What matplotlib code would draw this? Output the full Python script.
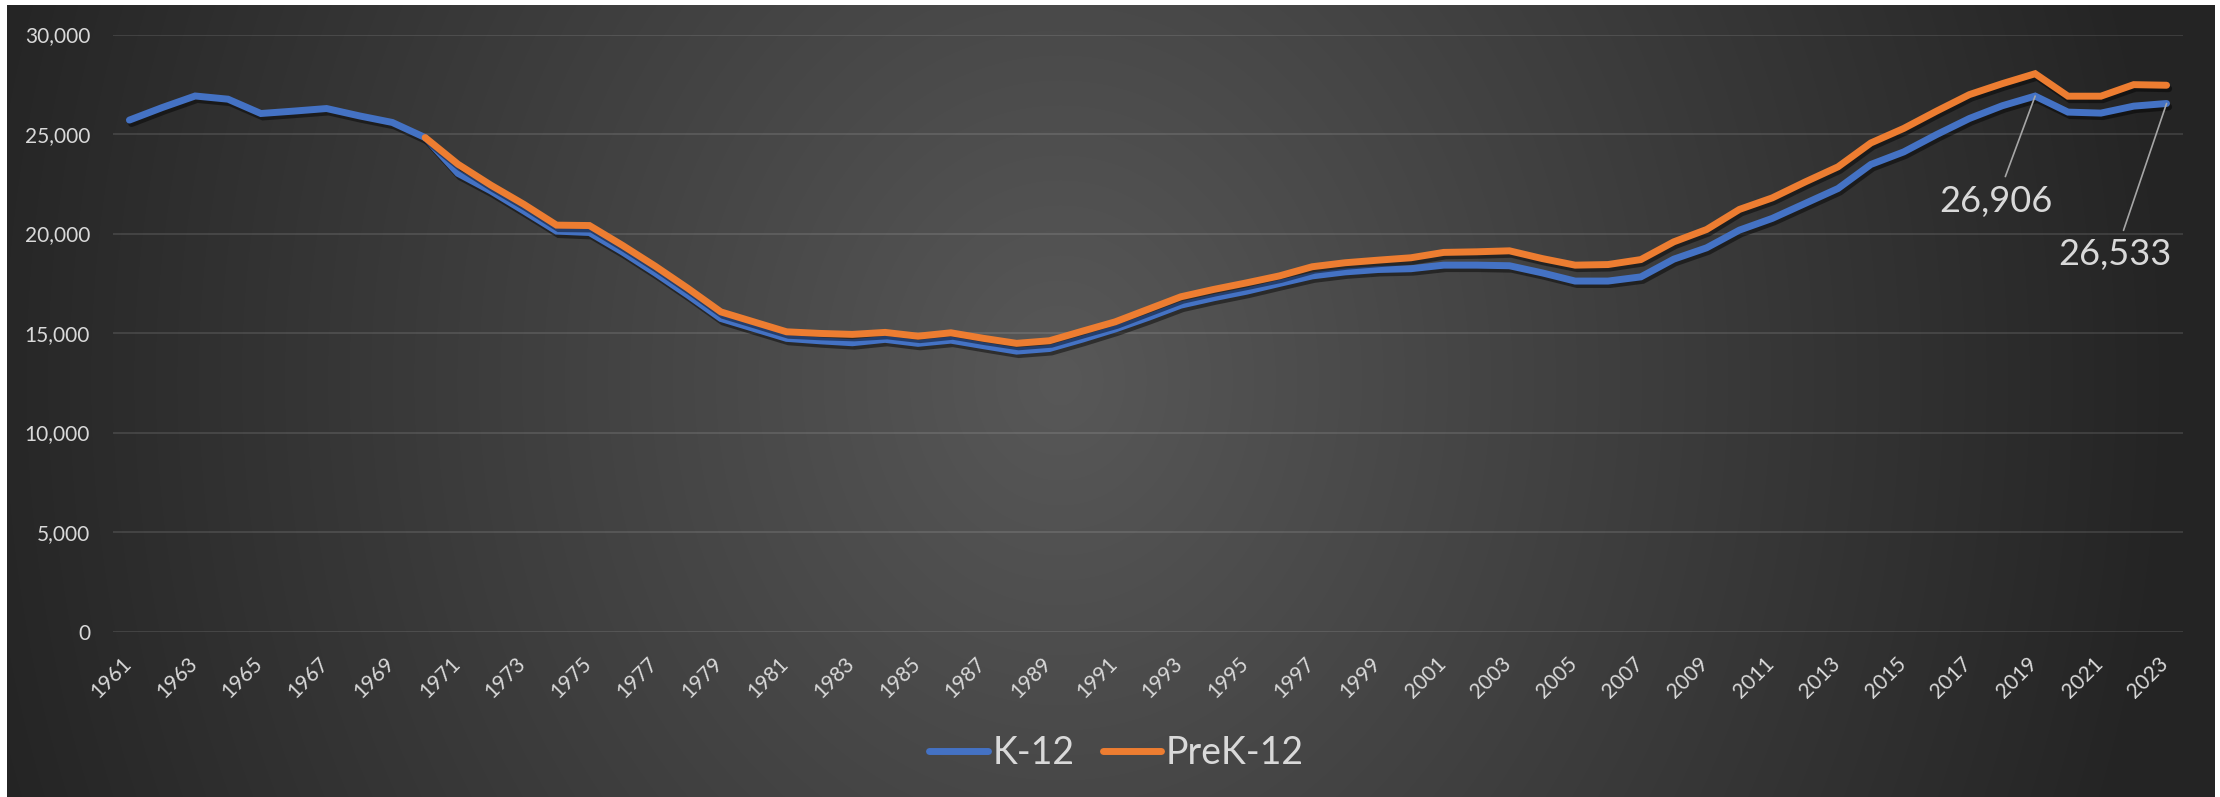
import numpy as np
import matplotlib
matplotlib.use("Agg")
import matplotlib.pyplot as plt
import matplotlib.patheffects as pe
import matplotlib.transforms as mtransforms
from matplotlib.lines import Line2D
from matplotlib.ticker import FuncFormatter

plt.rcParams['font.family'] = ['Lato', 'DejaVu Sans']

# ---------------- data ----------------
years = list(range(1961, 2024))
k12 = [25700, 26330, 26910, 26750, 26030, 26150, 26280, 25910, 25580, 24820,
       23020, 22140, 21140, 20120, 20050, 19080, 18020, 16900, 15730, 15230,
       14730, 14610, 14510, 14680, 14480, 14640, 14360, 14090, 14220, 14690,
       15200, 15780, 16400, 16770, 17100, 17490, 17870, 18070, 18190, 18230,
       18410, 18410, 18380, 18020, 17610, 17610, 17820, 18710, 19280, 20170,
       20760, 21510, 22260, 23470, 24100, 24970, 25780, 26420, 26906, 26100,
       26050, 26400, 26533]
prek12 = [None] * 9 + [
       24820,
       23480, 22430, 21470, 20420, 20400, 19410, 18360, 17240, 16060, 15560,
       15060, 14980, 14930, 15030, 14840, 15010, 14730, 14480, 14610, 15090,
       15560, 16190, 16820, 17190, 17520, 17870, 18330, 18530, 18660, 18780,
       19050, 19080, 19130, 18740, 18410, 18440, 18690, 19580, 20200, 21210,
       21790, 22590, 23350, 24550, 25280, 26150, 26980, 27530, 28030, 26900,
       26900, 27480, 27450]
series_names = ["K-12", "PreK-12"]
labelled_years = [2019, 2023]
yticks = [0, 5000, 10000, 15000, 20000, 25000, 30000]

BLUE = "#4472C4"
ORANGE = "#ED7D31"
TXT = "#D9D9D9"

W, H = 2220, 797
fig = plt.figure(figsize=(W / 100, H / 100), dpi=100, facecolor="white")

# ---------------- background gradient ----------------
bx0, by0, bx1, by1 = 7, 5, 2215, 797  # pixel box (top-left origin)
bg = fig.add_axes([bx0 / W, 1 - by1 / H, (bx1 - bx0) / W, (by1 - by0) / H])
gx = np.arange(bx0, bx1)
gy = np.arange(by0, by1)
GX, GY = np.meshgrid(gx, gy)
r = np.sqrt(((GX - 1060) / 1120.0) ** 2 + ((GY - 380) / 1300.0) ** 2)
r = np.clip(r, 0, 1)
v = (36 + 52 * (1 - r)) / 255.0
img = np.dstack([v, v, v])
bg.imshow(img, aspect="auto", interpolation="bilinear", origin="upper")
bg.set_axis_off()

# ---------------- main axes ----------------
left, right, top, bottom = 113, 2183, 34.5, 631.5
ax = fig.add_axes([left / W, 1 - bottom / H, (right - left) / W, (bottom - top) / H])
ax.patch.set_alpha(0)
x = np.arange(len(years))
k_arr = np.array(k12, dtype=float)
p_arr = np.array([np.nan if v_ is None else v_ for v_ in prek12], dtype=float)

shadow = [pe.SimpleLineShadow(offset=(1.5, -2.5), shadow_color="black", alpha=0.45),
          pe.Normal()]
ax.plot(x, k_arr, color=BLUE, lw=5, solid_capstyle="round",
        solid_joinstyle="miter", zorder=3, path_effects=shadow)
ax.plot(x, p_arr, color=ORANGE, lw=5, solid_capstyle="round",
        solid_joinstyle="miter", zorder=4, path_effects=shadow)

ax.set_xlim(-0.5, len(years) - 0.5)
ax.set_ylim(0, 30000)
ax.set_yticks(yticks)
ax.yaxis.set_major_formatter(FuncFormatter(lambda val, p: f"{val:,.0f}"))
ax.grid(axis="y", color="white", alpha=0.11, lw=1.5)
ax.set_axisbelow(True)
for s in ax.spines.values():
    s.set_visible(False)

ax.set_xticks(x[::2])
ax.set_xticklabels([str(y) for y in years[::2]], rotation=45, ha="right",
                   va="top", fontsize=15, color=TXT)
ax.tick_params(axis="x", length=0, pad=16)
ax.tick_params(axis="y", length=0, pad=16.5, labelsize=15, labelcolor=TXT)
off = mtransforms.ScaledTranslation(6 / 100, 0, fig.dpi_scale_trans)
for lab in ax.get_xticklabels():
    lab.set_transform(lab.get_transform() + off)

# ---------------- data labels ----------------
offsets = {2019: (-28, -75.6), 2023: (-37, -109)}
for yr in labelled_years:
    i = years.index(yr)
    ax.annotate(f"{k12[i]:,}", xy=(i, k12[i]), xytext=offsets[yr],
                textcoords="offset points", ha="center", va="center",
                fontsize=26, color=TXT, annotation_clip=False,
                arrowprops=dict(arrowstyle="-", color="#A6A6A6", lw=1.2,
                                shrinkA=4, shrinkB=0))

# ---------------- legend ----------------
handles = [Line2D([], [], color=BLUE, lw=5, solid_capstyle="round"),
           Line2D([], [], color=ORANGE, lw=5, solid_capstyle="round")]
fig.legend(handles=handles, labels=series_names, loc="center",
           bbox_to_anchor=(0.503, 0.055),
           ncol=2, frameon=False, fontsize=27, labelcolor=TXT,
           handlelength=1.55, handletextpad=0.13, columnspacing=0.75)

fig.savefig("out.png", dpi=100, facecolor="white")
